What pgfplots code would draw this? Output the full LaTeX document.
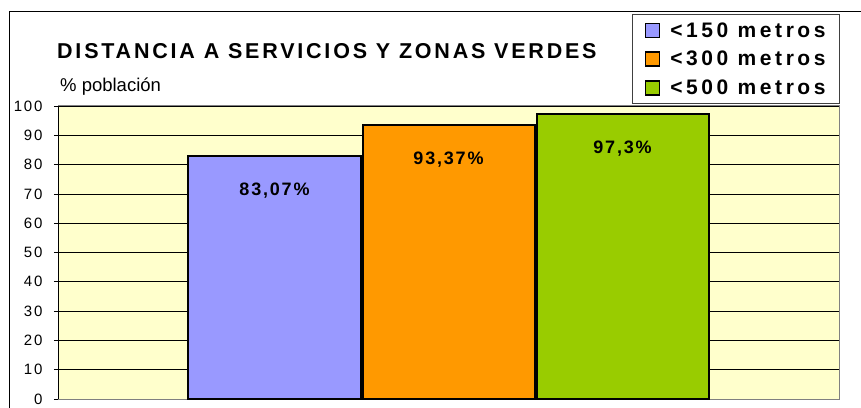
\documentclass[border=0pt]{standalone}
\usepackage{pgfplots}
\pgfplotsset{compat=1.18}
\usepackage{fontspec}
\setmainfont{Liberation Sans}
\newfontfamily\titlefont[LetterSpace=13]{Liberation Sans}
\newfontfamily\legfont[LetterSpace=17]{Liberation Sans}
\newfontfamily\lblfont[LetterSpace=10]{Liberation Sans}
\newfontfamily\tickfont[LetterSpace=12]{Liberation Sans}
\definecolor{cblue}{HTML}{9999FF}
\definecolor{corange}{HTML}{FF9900}
\definecolor{cgreen}{HTML}{99CC00}
\definecolor{plotbg}{HTML}{FFFFCC}
\begin{document}
\begin{tikzpicture}
\useasboundingbox (-59pt,-8pt) rectangle (802pt,399pt);
\draw[black, line width=1pt] (-49pt,-20pt) -- (-49pt,387pt) -- (820pt,387pt);
\node[anchor=base west, inner sep=0pt, font=\fontsize{21.5}{21.5}\selectfont\titlefont\bfseries] at (-2pt,340.5pt) {DISTANCIA A SERVICIOS Y ZONAS VERDES};
\node[anchor=base west, inner sep=0pt, font=\fontsize{18.5}{18.5}\selectfont] at (1pt,307pt) {\% población};
\begin{axis}[
  at={(0,0)}, anchor=south west,
  scale only axis, width=780pt, height=293pt,
  xmin=-0.2385, xmax=4.2443, ymin=0, ymax=100,
  xtick=\empty,
  ytick={0,10,...,100},
  ytick pos=left,
  tick align=outside, major tick length=5pt,
  tick style={black, line width=0.8pt},
  ymajorgrids, major grid style={black, line width=0.8pt},
  axis background/.style={fill=plotbg},
  axis line style={draw=gray, line width=1pt},
  /pgf/number format/assume math mode=true,
  yticklabel style={font=\fontsize{15}{15}\selectfont\tickfont, xshift=-8pt},
  ybar,
  bar width=172pt,
  legend style={at={(1,1)}, anchor=north east, xshift=1pt, yshift=92pt,
    draw=black!75, fill=white, line width=0.8pt,
    font=\fontsize{21}{21}\selectfont\legfont\bfseries,
    inner xsep=12pt, inner ysep=6pt, row sep=8.5pt,
    cells={anchor=west},
    /tikz/every odd column/.append style={column sep=8pt}},
  legend image code/.code={\draw[#1, line width=1.5pt] (0pt,-7pt) rectangle (14pt,7pt);},
  nodes near coords={\pgfmathprintnumber[use comma, fixed, precision=2]{\pgfplotspointmeta}\%},
  every node near coord/.append style={anchor=north, yshift=-26pt, inner sep=0pt, black,
    font=\fontsize{18}{18}\selectfont\lblfont\bfseries},
  after end axis/.code={\draw[black, line width=1pt] (rel axis cs:0,0) -- (rel axis cs:0,1);},
]
\addplot[fill=cblue, draw=black, line width=2pt, bar shift=0pt] coordinates {(1,83.07)};
\addplot[fill=corange, draw=black, line width=2pt, bar shift=0pt] coordinates {(2,93.37)};
\addplot[fill=cgreen, draw=black, line width=2pt, bar shift=0pt] coordinates {(3,97.3)};
\legend{<150 metros,<300 metros,<500 metros}
\end{axis}
\end{tikzpicture}
\end{document}
